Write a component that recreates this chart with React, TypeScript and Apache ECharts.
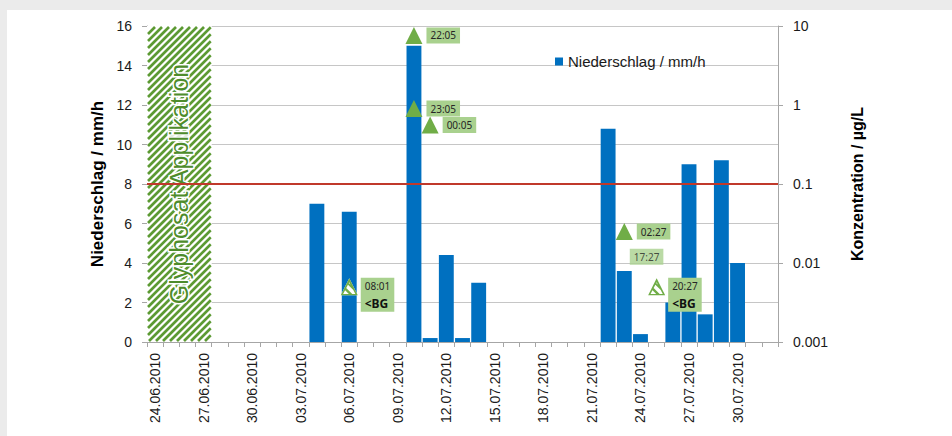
import React, { useEffect, useRef } from 'react';
import * as echarts from 'echarts';

const categories = [
  '24.06.2010', '25.06.2010', '26.06.2010', '27.06.2010', '28.06.2010', '29.06.2010', '30.06.2010',
  '01.07.2010', '02.07.2010', '03.07.2010', '04.07.2010', '05.07.2010', '06.07.2010', '07.07.2010',
  '08.07.2010', '09.07.2010', '10.07.2010', '11.07.2010', '12.07.2010', '13.07.2010', '14.07.2010',
  '15.07.2010', '16.07.2010', '17.07.2010', '18.07.2010', '19.07.2010', '20.07.2010', '21.07.2010',
  '22.07.2010', '23.07.2010', '24.07.2010', '25.07.2010', '26.07.2010', '27.07.2010', '28.07.2010',
  '29.07.2010', '30.07.2010', '31.07.2010', '01.08.2010',
];

const precipitation = [
  0, 0, 0, 0, 0, 0, 0, 0, 0, 0,
  7.0, 0, 6.6, 0, 0, 0, 15.0, 0.2, 4.4, 0.2,
  3.0, 0, 0, 0, 0, 0, 0, 0, 10.8, 3.6,
  0.4, 0, 2.0, 9.0, 1.4, 9.2, 4.0, 0, 0,
];

// Glyphosat application period: [first category index, last category index, top value]
const applicationRange = [0, 3, 16];
const applicationText = 'Glyphosat Applikation';

// measured concentrations (µg/L)
const concTimes = ['22:05', '23:05', '00:05', '02:27'];
const concCats = [16, 16, 17, 29];
const concValues = [7.6, 0.9, 0.56, 0.025];

// label without visible marker
const hiddenTimes = ['17:27'];
const hiddenCats = [29];
const hiddenValues = [0.012];

// below detection limit (<BG)
const bgTimes = ['08:01', '20:27'];
const bgCats = [12, 31];
const bgValues = [0.005, 0.005];

const limitValue = 8; // = 0.1 µg/L on the right axis

const leftTicks = { min: 0, max: 16, interval: 2 };
const rightTicks = { min: 0.001, max: 10 };

const FONT = '"Liberation Sans", Arial, Helvetica, sans-serif';
const LABEL_FONT = '"Noto Sans", "Open Sans", sans-serif';
const GREEN = '#70ad47';
const HATCH = '#5c9a33';
const BOX = '#a9d18e';
const AXIS_GREY = '#a6a6a6';

const bgPath =
  'path://M50 0 L100 100 L0 100 Z M50 24 L14 92 L86 92 Z M25 50 L75 100 L55 100 L18.3 63.3 Z M40 20 L80 60 L95 90 L35 30 Z';

function fmtLog(v: number) {
  const e = Math.round(Math.log10(v));
  if (e >= 0) return String(Math.pow(10, e));
  return '0.' + '0'.repeat(-e - 1) + '1';
}

export default function App() {
  const ref = useRef<HTMLDivElement>(null);

  useEffect(() => {
    if (!ref.current) return;
    const chart = echarts.init(ref.current, null, { renderer: 'svg' });

    const boxLabel = {
      show: true,
      position: 'right',
      distance: 4,
      formatter: '{b}',
      backgroundColor: BOX,
      padding: [2, 4],
      color: '#262626',
      fontSize: 10,
      lineHeight: 12,
      fontFamily: LABEL_FONT,
    };

    const option: any = {
      animation: false,
      grid: { left: 147, right: 174, top: 26, bottom: 94 },
      legend: {
        show: true,
        data: ['Niederschlag / mm/h'],
        left: 555,
        top: 54,
        padding: 0,
        itemWidth: 8,
        itemHeight: 8,
        icon: 'rect',
        selectedMode: false,
        textStyle: { fontSize: 15, color: '#1a1a1a', fontFamily: FONT },
      },
      xAxis: {
        type: 'category',
        data: categories,
        boundaryGap: true,
        axisLine: { show: true, lineStyle: { color: AXIS_GREY, width: 1 } },
        axisTick: { show: true, interval: 0, length: 5, lineStyle: { color: AXIS_GREY } },
        axisLabel: {
          interval: 2,
          rotate: 90,
          margin: 11,
          fontSize: 14,
          color: '#1a1a1a',
          fontFamily: FONT,
        },
        splitLine: { show: false },
      },
      yAxis: [
        {
          type: 'value',
          min: leftTicks.min,
          max: leftTicks.max,
          interval: leftTicks.interval,
          name: 'Niederschlag / mm/h',
          nameLocation: 'middle',
          nameRotate: 90,
          nameGap: 37,
          nameTextStyle: { fontSize: 17, fontWeight: 'bold', color: '#000', fontFamily: FONT },
          axisLine: { show: true, lineStyle: { color: AXIS_GREY } },
          axisTick: { show: true, length: 5, lineStyle: { color: AXIS_GREY } },
          axisLabel: { fontSize: 14, color: '#1a1a1a', margin: 15, fontFamily: FONT },
          splitLine: { show: true, lineStyle: { color: '#c6c6c6', width: 1 } },
        },
        {
          type: 'log',
          logBase: 10,
          min: rightTicks.min,
          max: rightTicks.max,
          position: 'right',
          name: 'Konzentration / µg/L',
          nameLocation: 'middle',
          nameRotate: 90,
          nameGap: 71,
          nameTextStyle: { fontSize: 16, fontWeight: 'bold', color: '#000', fontFamily: FONT },
          axisLine: { show: true, lineStyle: { color: AXIS_GREY } },
          axisTick: { show: true, length: 5, lineStyle: { color: AXIS_GREY } },
          minorTick: { show: false },
          axisLabel: {
            fontSize: 14,
            color: '#1a1a1a',
            margin: 15,
            fontFamily: FONT,
            formatter: (v: number) => fmtLog(v),
          },
          splitLine: { show: false },
        },
      ],
      series: [
        {
          type: 'custom',
          name: 'Applikation',
          xAxisIndex: 0,
          yAxisIndex: 0,
          silent: true,
          encode: { x: [0, 1], y: 2 },
          data: [applicationRange],
          renderItem: (params: any, api: any) => {
            const bw = api.size([1, 0])[0];
            const pTop = api.coord([api.value(0), api.value(2)]);
            const pEnd = api.coord([api.value(1), 0]);
            const x0 = pTop[0] - bw / 2;
            const x1 = pEnd[0] + bw / 2;
            const yT = pTop[1];
            const yB = pEnd[1];
            const children: any[] = [
              {
                type: 'rect',
                shape: { x: x0, y: yT, width: x1 - x0, height: yB - yT },
                style: { fill: '#ffffff' },
              },
            ];
            const step = 7;
            for (let c = x0 + yT + 2; c <= x1 + yB; c += step) {
              const xa = Math.max(x0 + 1, c - yB + 1);
              const xb = Math.min(x1 - 1, c - yT - 1);
              if (xb > xa) {
                children.push({
                  type: 'line',
                  shape: { x1: xa, y1: c - xa, x2: xb, y2: c - xb },
                  style: { stroke: HATCH, lineWidth: 2.6 },
                });
              }
            }
            const cx = (x0 + x1) / 2;
            const cy = (yT + yB) / 2;
            children.push({
              type: 'text',
              x: cx,
              y: cy,
              rotation: Math.PI / 2,
              style: {
                text: applicationText,
                fill: '#ffffff',
                stroke: '#ffffff',
                lineWidth: 3,
                fontSize: 25,
                fontFamily: FONT,
                align: 'center',
                verticalAlign: 'middle',
              },
            });
            children.push({
              type: 'text',
              x: cx,
              y: cy,
              rotation: Math.PI / 2,
              style: {
                text: applicationText,
                fill: '#4e8c2b',
                fontSize: 25,
                fontFamily: FONT,
                align: 'center',
                verticalAlign: 'middle',
              },
            });
            return { type: 'group', children };
          },
        },
        {
          type: 'bar',
          name: 'Niederschlag / mm/h',
          xAxisIndex: 0,
          yAxisIndex: 0,
          data: precipitation,
          barCategoryGap: '8%',
          itemStyle: { color: '#0070c0' },
          markLine: {
            silent: true,
            symbol: ['none', 'none'],
            label: { show: false },
            lineStyle: { color: '#c0392b', width: 2, type: 'solid' },
            data: [{ yAxis: limitValue }],
          },
        },
        {
          type: 'scatter',
          name: 'bg-back',
          xAxisIndex: 0,
          yAxisIndex: 1,
          silent: true,
          symbol: 'triangle',
          symbolSize: 17,
          itemStyle: { color: '#ffffff', opacity: 1 },
          data: bgCats.map((c, i) => [c, bgValues[i]]),
          z: 3,
        },
        {
          type: 'scatter',
          name: 'bg',
          xAxisIndex: 0,
          yAxisIndex: 1,
          silent: true,
          symbol: bgPath,
          symbolSize: 17,
          itemStyle: { color: GREEN, opacity: 1 },
          label: {
            show: true,
            position: 'right',
            distance: 3,
            offset: [0, 8],
            formatter: (p: any) => '{t|' + p.name + '}\n{b|<BG}',
            backgroundColor: BOX,
            padding: [0, 4],
            rich: {
              t: { fontSize: 10, lineHeight: 17, color: '#262626', fontFamily: LABEL_FONT },
              b: { fontSize: 12, lineHeight: 17, fontWeight: 'bold', color: '#111', fontFamily: LABEL_FONT },
            },
          },
          data: bgCats.map((c, i) => ({ value: [c, bgValues[i]], name: bgTimes[i] })),
          z: 4,
        },
        {
          type: 'scatter',
          name: 'hidden',
          xAxisIndex: 0,
          yAxisIndex: 1,
          silent: true,
          symbol: 'triangle',
          symbolSize: 17,
          itemStyle: { color: 'rgba(0,0,0,0)' },
          label: { ...boxLabel, offset: [-7, 0] },
          data: hiddenCats.map((c, i) => ({ value: [c, hiddenValues[i]], name: hiddenTimes[i] })),
          z: 4,
        },
        {
          type: 'scatter',
          name: 'conc',
          xAxisIndex: 0,
          yAxisIndex: 1,
          silent: true,
          symbol: 'triangle',
          symbolSize: 17,
          itemStyle: { color: GREEN, opacity: 1 },
          label: boxLabel,
          data: concCats.map((c, i) => ({ value: [c, concValues[i]], name: concTimes[i] })),
          z: 4,
        },
      ],
    };

    chart.setOption(option);
    return () => chart.dispose();
  }, []);

  return (
    <div style={{ position: 'fixed', left: 0, top: 0, width: 952, height: 436, background: '#ebebeb' }}>
      <div style={{ position: 'absolute', left: 7, top: 10, right: 0, bottom: 0, background: '#ffffff' }} />
      <div ref={ref} style={{ position: 'absolute', left: 0, top: 0, width: 952, height: 436 }} />
    </div>
  );
}
